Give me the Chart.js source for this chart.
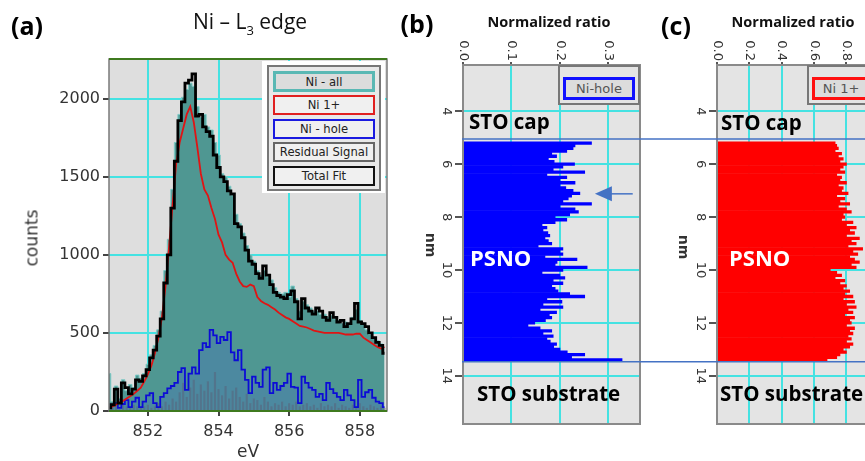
<!DOCTYPE html>
<html>
<head>
<meta charset="utf-8">
<script src="https://cdn.jsdelivr.net/npm/chart.js@4.4.1/dist/chart.umd.min.js"></script>
<style>
  html,body{margin:0;padding:0;background:#fff;}
  body{width:865px;height:461px;overflow:hidden;position:relative;font-family:'Open Sans',sans-serif;}
  canvas{position:absolute;top:0;}
  .c{position:absolute;white-space:nowrap;line-height:1;transform:translate(-50%,-50%);}
  .l{position:absolute;white-space:nowrap;line-height:1;transform:translate(0,-50%);}
  .b{font-weight:700;}
  .leg{position:absolute;box-sizing:border-box;display:flex;align-items:center;justify-content:center;font-family:'DejaVu Sans',sans-serif;font-size:11.6px;color:#222;}
</style>
</head>
<body>
<canvas id="ca" width="400" height="461" style="left:0"></canvas>
<canvas id="cb" width="250" height="461" style="left:400px"></canvas>
<canvas id="cc" width="300" height="461" style="left:650px"></canvas>

<!-- panel (a) text -->
<div class="c b" style="left:27px;top:25px;font-size:25px;">(a)</div>
<div class="c" style="left:250px;top:24px;font-size:21px;color:#111;">Ni – L<sub style="font-size:13px;">3</sub> edge</div>
<div class="c" style="left:32px;top:238px;font-size:17px;color:#333;font-family:'DejaVu Sans';transform:translate(-50%,-50%) rotate(-90deg);">counts</div>
<div class="c" style="left:248px;top:451px;font-size:17px;color:#333;font-family:'DejaVu Sans';">eV</div>
<div style="position:absolute;left:262px;top:61px;width:123px;height:132px;background:#fff;"></div>
<div style="position:absolute;left:267px;top:65px;width:114px;height:126px;box-sizing:border-box;border:2px solid #777;background:#e8e8e8;"></div>
<div class="leg" style="left:273px;top:71px;width:102px;height:21px;border:3px solid #5ab8b4;background:#dcdcdc;">Ni - all</div>
<div class="leg" style="left:273px;top:95px;width:102px;height:20px;border:2px solid #e02020;background:#f0f0f0;">Ni 1+</div>
<div class="leg" style="left:273px;top:119px;width:102px;height:20px;border:2px solid #1a1ae0;background:#f0f0f0;">Ni - hole</div>
<div class="leg" style="left:273px;top:142px;width:102px;height:20px;border:2px solid #666;background:#f0f0f0;">Residual Signal</div>
<div class="leg" style="left:273px;top:166px;width:102px;height:20px;border:2px solid #111;background:#f0f0f0;">Total Fit</div>

<!-- panel (b) text -->
<div class="c b" style="left:417px;top:23px;font-size:25px;">(b)</div>
<div class="c b" style="left:549px;top:22px;font-size:14.5px;color:#111;">Normalized ratio</div>
<div class="c" style="left:431px;top:245px;font-size:14px;color:#333;font-weight:700;font-family:'DejaVu Sans';transform:translate(-50%,-50%) rotate(90deg);">nm</div>
<div style="position:absolute;left:558px;top:65px;width:82px;height:40px;box-sizing:border-box;border:2px solid #777;background:#e4e4e4;"></div>
<div class="leg" style="left:563px;top:77px;width:72px;height:23px;border:3px solid #1010ff;background:#dcdcdc;font-size:13px;color:#555;">Ni-hole</div>
<div class="l b" style="left:469px;top:121px;font-size:20.5px;color:#000;">STO cap</div>
<div class="l b" style="left:470px;top:257px;font-size:22px;color:#fff;">PSNO</div>
<div class="l b" style="left:477px;top:393px;font-size:20.5px;color:#000;">STO substrate</div>

<!-- panel (c) text -->
<div class="c b" style="left:676px;top:25px;font-size:25px;">(c)</div>
<div class="c b" style="left:793px;top:22px;font-size:14.5px;color:#111;">Normalized ratio</div>
<div class="c" style="left:684px;top:247px;font-size:14px;color:#333;font-weight:700;font-family:'DejaVu Sans';transform:translate(-50%,-50%) rotate(90deg);">nm</div>
<div style="position:absolute;left:807px;top:65px;width:100px;height:40px;box-sizing:border-box;border:2px solid #777;background:#e4e4e4;"></div>
<div class="leg" style="left:812px;top:77px;width:58px;height:23px;border:3px solid #ff1010;background:#dcdcdc;font-size:13px;color:#555;">Ni 1+</div>
<div class="l b" style="left:721px;top:122px;font-size:20.5px;color:#000;">STO cap</div>
<div class="l b" style="left:729px;top:257px;font-size:22px;color:#fff;">PSNO</div>
<div class="l b" style="left:720px;top:393px;font-size:20.5px;color:#000;">STO substrate</div>

<script>
// ---------- Panel (a): Ni L3 edge spectrum ----------
const energies = [850.9,
  851.0,851.1,851.2,851.3,851.4,851.5,851.6,851.7,851.8,851.9,
  852.0,852.1,852.2,852.3,852.4,852.5,852.6,852.7,852.8,852.9,
  853.0,853.1,853.2,853.3,853.4,853.5,853.6,853.7,853.8,853.9,
  854.0,854.1,854.2,854.3,854.4,854.5,854.6,854.7,854.8,854.9,
  855.0,855.1,855.2,855.3,855.4,855.5,855.6,855.7,855.8,855.9,
  856.0,856.1,856.2,856.3,856.4,856.5,856.6,856.7,856.8,856.9,
  857.0,857.1,857.2,857.3,857.4,857.5,857.6,857.7,857.8,857.9,
  858.0,858.1,858.2,858.3,858.4,858.5,858.6,858.7];
const niAll = [240,
  60,160,80,200,130,170,150,230,210,240,
  300,360,420,520,640,900,1100,1420,1720,1900,
  2010,2060,2100,2080,1950,1880,1900,1820,1800,1720,
  1640,1520,1500,1440,1380,1260,1200,1140,1060,1000,
  960,900,870,900,860,840,790,760,750,760,
  730,800,720,640,700,680,660,640,640,620,
  620,600,610,590,580,560,570,560,600,650,
  580,560,520,490,470,450,430,400];
const ni1Plus = [20,
  30,40,55,65,80,95,110,130,150,190,
  235,290,370,470,600,800,1050,1320,1580,1720,
  1810,1900,1950,1850,1690,1520,1420,1380,1300,1230,
  1130,1080,1000,970,950,880,830,800,795,810,
  800,730,705,690,680,665,650,630,615,600,
  590,575,560,545,540,535,525,515,510,505,
  500,500,500,500,500,495,490,490,490,495,
  495,470,455,440,425,410,400,410];
const niHole = [25,
  40,50,20,45,70,25,60,85,25,60,
  100,115,50,25,90,115,145,160,180,250,
  275,135,240,280,240,390,435,410,520,485,
  435,475,455,505,375,325,390,265,200,115,
  220,180,155,265,280,115,180,135,160,180,
  240,155,150,50,220,180,150,135,90,110,
  70,180,140,115,90,70,135,100,70,25,
  200,90,120,135,85,60,50,25];
const residual = [30,
  20,50,10,40,30,20,40,30,20,30,
  40,20,30,50,30,60,40,80,60,120,
  180,90,150,200,110,170,130,190,120,250,
  140,100,160,80,130,150,90,60,110,50,
  80,70,40,90,60,30,50,40,60,30,
  50,40,60,30,40,50,30,40,20,50,
  30,40,30,50,20,40,30,20,40,30,
  50,30,20,40,30,20,30,20];
const totalFit = [20,
  40,140,50,180,150,110,140,200,190,225,
  265,340,390,480,590,820,1000,1300,1600,1860,
  1980,2100,2120,2160,1890,1900,1820,1790,1760,1640,
  1560,1500,1470,1410,1390,1200,1180,1110,1030,960,
  940,880,850,930,870,810,760,740,730,720,
  745,770,700,590,720,660,640,620,660,640,
  600,580,630,600,570,580,540,560,590,690,
  570,560,540,500,470,440,420,370];
const energyTicks = [852, 854, 856, 858];
const countTicks = [0, 500, 1000, 1500, 2000];

// ---------- Panels (b), (c): depth profiles ----------
const depths = [5.2,5.3,5.4,5.5,5.6,5.7,5.8,5.9,
  6.0,6.1,6.2,6.3,6.4,6.5,6.6,6.7,6.8,6.9,
  7.0,7.1,7.2,7.3,7.4,7.5,7.6,7.7,7.8,7.9,
  8.0,8.1,8.2,8.3,8.4,8.5,8.6,8.7,8.8,8.9,
  9.0,9.1,9.2,9.3,9.4,9.5,9.6,9.7,9.8,9.9,
  10.0,10.1,10.2,10.3,10.4,10.5,10.6,10.7,10.8,10.9,
  11.0,11.1,11.2,11.3,11.4,11.5,11.6,11.7,11.8,11.9,
  12.0,12.1,12.2,12.3,12.4,12.5,12.6,12.7,12.8,12.9,
  13.0,13.1,13.2,13.3,13.4];
const niHoleRatio = [0.265,0.231,0.227,0.214,0.183,0.193,0.176,0.188,
  0.230,0.206,0.186,0.251,0.173,0.214,0.200,0.231,0.200,0.212,
  0.227,0.241,0.224,0.217,0.206,0.265,0.200,0.231,0.238,0.220,
  0.190,0.214,0.190,0.163,0.173,0.165,0.175,0.179,0.169,0.176,
  0.183,0.155,0.206,0.200,0.206,0.169,0.235,0.194,0.190,0.256,
  0.206,0.163,0.200,0.210,0.186,0.206,0.183,0.190,0.196,0.220,
  0.251,0.173,0.204,0.165,0.206,0.159,0.193,0.178,0.183,0.170,
  0.148,0.134,0.159,0.183,0.165,0.186,0.173,0.180,0.193,0.187,
  0.200,0.215,0.251,0.224,0.328];
const ni1PlusRatio = [0.73,0.74,0.75,0.73,0.77,0.75,0.78,0.76,
  0.80,0.78,0.76,0.79,0.74,0.77,0.76,0.80,0.75,0.78,
  0.77,0.81,0.74,0.79,0.76,0.82,0.75,0.80,0.83,0.78,
  0.79,0.77,0.84,0.80,0.86,0.82,0.85,0.80,0.88,0.83,
  0.86,0.81,0.90,0.84,0.87,0.82,0.85,0.88,0.83,0.86,
  0.70,0.74,0.77,0.73,0.79,0.76,0.80,0.78,0.82,0.79,
  0.84,0.78,0.85,0.80,0.86,0.81,0.84,0.79,0.85,0.82,
  0.83,0.80,0.85,0.82,0.84,0.81,0.83,0.80,0.84,0.82,
  0.78,0.80,0.76,0.74,0.68];
const depthTicks = [4, 6, 8, 10, 12, 14];
const ratioTicksB = [0.0, 0.1, 0.2, 0.3];
const ratioTicksC = [0.0, 0.2, 0.4, 0.6, 0.8, 1.0];
const layerBounds = [5.05, 13.47];          // STO cap / PSNO / STO substrate interfaces (nm)
const arrowMark = {depth: 7.12, tip: 0.272, tail: 0.35};

Chart.defaults.font.family = "'DejaVu Sans', sans-serif";
const CYAN = '#44e2e2';

const pts = arr => energies.map((e, i) => ({x: e, y: arr[i]}));
const setTicks = list => (s => { s.ticks = list.map(v => ({value: v})); });

const frameA = {
  id: 'frameA',
  beforeDraw(c) {
    const {ctx, chartArea: a} = c;
    ctx.save(); ctx.fillStyle = '#dedede';
    ctx.fillRect(a.left, a.top, a.right - a.left, a.bottom - a.top); ctx.restore();
  },
  afterDatasetsDraw(c) {
    const {ctx, chartArea: a} = c;
    ctx.save();
    ctx.strokeStyle = '#7a7a7a'; ctx.lineWidth = 1.5;
    ctx.strokeRect(a.left, a.top, a.right - a.left, a.bottom - a.top);
    ctx.strokeStyle = '#3f7a1f'; ctx.lineWidth = 2;
    ctx.beginPath(); ctx.moveTo(a.left, a.top); ctx.lineTo(a.right, a.top);
    ctx.moveTo(a.left, a.bottom); ctx.lineTo(a.right, a.bottom); ctx.stroke();
    ctx.restore();
  }
};

new Chart(document.getElementById('ca'), {
  type: 'line',
  data: { datasets: [
    {label: 'Total Fit', data: pts(totalFit), borderColor: '#000', borderWidth: 2.8, pointRadius: 0, fill: false, stepped: 'middle', order: 0},
    {label: 'Ni 1+', data: pts(ni1Plus), borderColor: '#e01414', borderWidth: 1.8, pointRadius: 0, fill: false, order: 1},
    {label: 'Ni - hole', data: pts(niHole), borderColor: '#0c0cd6', borderWidth: 1.8, pointRadius: 0, fill: 'origin', stepped: 'middle', backgroundColor: 'rgba(70,90,210,0.22)', order: 2},
    {type: 'bar', label: 'Residual Signal', data: pts(residual), backgroundColor: 'rgba(95,95,95,0.5)', barPercentage: 0.6, categoryPercentage: 1, order: 3},
    {label: 'Ni - all', data: pts(niAll), borderColor: '#7ccac6', borderWidth: 1, pointRadius: 0, fill: 'origin', stepped: 'middle', backgroundColor: '#4f9792', order: 4}
  ]},
  options: {
    responsive: false, animation: false, devicePixelRatio: 1,
    layout: {padding: {left: 50, top: 59, right: 13, bottom: 10}},
    plugins: {legend: {display: false}, tooltip: {enabled: false}},
    elements: {line: {tension: 0}},
    scales: {
      x: {type: 'linear', min: 850.9, max: 858.77, offset: false,
          afterBuildTicks: setTicks(energyTicks), afterFit: s => { s.height = 40; },
          grid: {offset: false, color: CYAN, lineWidth: 2, tickColor: '#444', tickLength: 5},
          border: {display: false},
          ticks: {color: '#333', font: {size: 16}, padding: 6, maxRotation: 0, callback: v => String(v)}},
      y: {type: 'linear', min: 0, max: 2255,
          afterBuildTicks: setTicks(countTicks), afterFit: s => { s.width = 59; },
          grid: {color: CYAN, lineWidth: 2, tickColor: '#444', tickLength: 6},
          border: {display: false},
          ticks: {color: '#333', font: {size: 16}, padding: 3, callback: v => String(v)}}
    }
  },
  plugins: [frameA]
});

// depth-profile panels
function profilePlugin(xTicks, decimals, withArrow, lineFromLeft) {
  return {
    id: 'profile',
    beforeDraw(c) {
      const {ctx, chartArea: a} = c;
      ctx.save(); ctx.fillStyle = '#e4e4e4';
      ctx.fillRect(a.left, a.top, a.right - a.left, a.bottom - a.top); ctx.restore();
    },
    afterDraw(c) {
      const {ctx, chartArea: a} = c;
      const xs = c.scales.x, ys = c.scales.y;
      ctx.save();
      ctx.strokeStyle = '#8a8a8a'; ctx.lineWidth = 2;
      ctx.strokeRect(a.left, a.top, a.right - a.left, a.bottom - a.top);
      ctx.fillStyle = '#333'; ctx.font = "13px 'DejaVu Sans'";
      xTicks.forEach(v => {
        const px = xs.getPixelForValue(v);
        ctx.save(); ctx.translate(px, a.top - 4); ctx.rotate(Math.PI / 2);
        ctx.textAlign = 'right'; ctx.textBaseline = 'middle';
        ctx.fillText(v.toFixed(decimals), 0, 0); ctx.restore();
      });
      depthTicks.forEach(v => {
        const py = ys.getPixelForValue(v);
        ctx.save(); ctx.translate(a.left - 17, py); ctx.rotate(Math.PI / 2);
        ctx.textAlign = 'center'; ctx.textBaseline = 'middle';
        ctx.fillText(String(v), 0, 0); ctx.restore();
      });
      ctx.strokeStyle = '#4472c4'; ctx.lineWidth = 1.5;
      layerBounds.forEach(d => {
        const py = ys.getPixelForValue(d);
        ctx.beginPath(); ctx.moveTo(lineFromLeft ? 0 : a.left - 1, py); ctx.lineTo(c.width, py); ctx.stroke();
      });
      if (withArrow) {
        const py = ys.getPixelForValue(arrowMark.depth);
        const tip = xs.getPixelForValue(arrowMark.tip), tail = xs.getPixelForValue(arrowMark.tail);
        ctx.fillStyle = '#4472c4';
        ctx.beginPath(); ctx.moveTo(tip, py); ctx.lineTo(tip + 17, py - 7.5); ctx.lineTo(tip + 17, py + 7.5); ctx.closePath(); ctx.fill();
        ctx.beginPath(); ctx.moveTo(tip + 15, py); ctx.lineTo(tail, py); ctx.stroke();
      }
      ctx.restore();
    }
  };
}

function profileChart(id, values, color, xMax, xTicks, padLeft, padRight, withArrow, lineFromLeft) {
  new Chart(document.getElementById(id), {
    type: 'bar',
    data: { datasets: [{ data: depths.map((d, i) => ({x: values[i], y: d})),
      backgroundColor: color, borderWidth: 0, barPercentage: 1, categoryPercentage: 1 }] },
    options: {
      indexAxis: 'y', responsive: false, animation: false, devicePixelRatio: 1,
      layout: {padding: {left: padLeft, top: 57, right: padRight, bottom: 37}},
      plugins: {legend: {display: false}, tooltip: {enabled: false}},
      scales: {
        x: {type: 'linear', position: 'top', min: 0, max: xMax, offset: false,
            afterBuildTicks: setTicks(xTicks), afterFit: s => { s.height = 8; },
            ticks: {display: false},
            grid: {offset: false, color: CYAN, lineWidth: 2, tickColor: '#555', tickLength: 3},
            border: {display: false}},
        y: {type: 'linear', reverse: true, min: 2.25, max: 15.82, offset: false,
            afterBuildTicks: setTicks(depthTicks), afterFit: s => { s.width = 12; },
            ticks: {display: false},
            grid: {offset: false, color: CYAN, lineWidth: 2, tickColor: '#555', tickLength: 8},
            border: {display: false}}
      }
    },
    plugins: [profilePlugin(xTicks, 1, withArrow, lineFromLeft)]
  });
}

profileChart('cb', niHoleRatio, '#0000ff', 0.365, ratioTicksB, 51, 10, true, false);
profileChart('cc', ni1PlusRatio, '#ff0000', 1.1, ratioTicksC, 55, 55, false, true);
</script>
</body>
</html>
